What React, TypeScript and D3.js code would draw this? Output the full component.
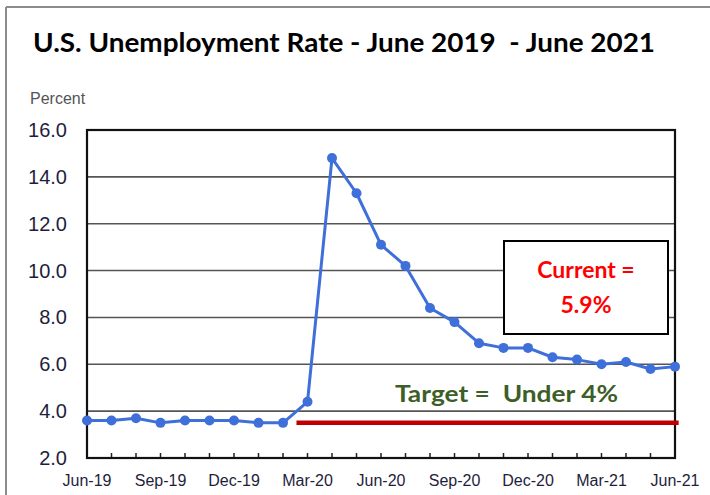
import React from "react";
import * as d3 from "d3";

const months = [
  "Jun-19","Jul-19","Aug-19","Sep-19","Oct-19","Nov-19","Dec-19","Jan-20","Feb-20",
  "Mar-20","Apr-20","May-20","Jun-20","Jul-20","Aug-20","Sep-20","Oct-20","Nov-20",
  "Dec-20","Jan-21","Feb-21","Mar-21","Apr-21","May-21","Jun-21",
];
const rates = [
  3.6, 3.6, 3.7, 3.5, 3.6, 3.6, 3.6, 3.5, 3.5,
  4.4, 14.8, 13.3, 11.1, 10.2, 8.4, 7.8, 6.9, 6.7,
  6.7, 6.3, 6.2, 6.0, 6.1, 5.8, 5.9,
];
const yTicks = [2, 4, 6, 8, 10, 12, 14, 16];
const xTickLabels = ["Jun-19","Sep-19","Dec-19","Mar-20","Jun-20","Sep-20","Dec-20","Mar-21","Jun-21"];
const targetValue = 3.5;
const targetStart = 8.55; // month index
const targetEnd = 24.15;
const titleText = "U.S. Unemployment Rate - June 2019  - June 2021";
const currentLines = ["Current =", "5.9%"];
const targetText = "Target =  Under 4%";

const W = 710, H = 495;
const left = 87, right = 675, top = 130, bottom = 458;

export default function App() {
  const x = d3.scaleLinear().domain([0, months.length - 1]).range([left, right]);
  const y = d3.scaleLinear().domain([2, 16]).range([bottom, top]);
  const line = d3.line<number>().x((_, i) => x(i)).y((d) => y(d));
  const tickFont = "'Liberation Sans', Arial, sans-serif";
  const calFont = "Lato, 'Open Sans', sans-serif";

  return (
    <svg width={W} height={H} style={{ position: "absolute", left: 0, top: 0, background: "#fff" }}>
      {/* outer frame */}
      <line x1={6} y1={7} x2={W} y2={7} stroke="#8c8c8c" strokeWidth={2} />
      <line x1={6} y1={7} x2={6} y2={H} stroke="#8c8c8c" strokeWidth={2} />

      <text x={33} y={52} fontFamily={calFont} fontWeight={700} fontSize={27} fill="#000"
        textLength={622} lengthAdjust="spacingAndGlyphs" style={{ whiteSpace: "pre" }}>
        {titleText}
      </text>

      <text x={30} y={104} fontFamily={tickFont} fontSize={16} fill="#555">Percent</text>

      {/* gridlines */}
      {yTicks.map((t) => (
        <line key={t} x1={left} x2={right} y1={y(t)} y2={y(t)} stroke="#555" strokeWidth={1.6} />
      ))}
      {yTicks.map((t) => (
        <text key={"l" + t} x={67} y={y(t) + 7} textAnchor="end" fontFamily={tickFont}
          fontSize={20} fill="#1e1e3c">{t.toFixed(1)}</text>
      ))}

      {/* month ticks */}
      {months.map((m, i) => (
        <line key={m} x1={x(i)} x2={x(i)} y1={bottom} y2={bottom - 5} stroke="#222" strokeWidth={1.5} />
      ))}
      {xTickLabels.map((lab) => (
        <text key={lab} x={x(months.indexOf(lab))} y={486} textAnchor="middle" fontFamily={tickFont}
          fontSize={16} fill="#1e1e3c">{lab}</text>
      ))}

      {/* frame */}
      <rect x={left} y={top} width={right - left} height={bottom - top} fill="none" stroke="#111" strokeWidth={2.2} />

      {/* target line */}
      <line x1={x(targetStart)} x2={x(targetEnd)} y1={y(targetValue)} y2={y(targetValue)} stroke="#c00000" strokeWidth={4.5} />

      {/* series */}
      <path d={line(rates) || ""} fill="none" stroke="#3f6fd8" strokeWidth={3} strokeLinejoin="round" />
      {rates.map((r, i) => (
        <circle key={i} cx={x(i)} cy={y(r)} r={5} fill="#3f6fd8" />
      ))}

      {/* current box */}
      <rect x={504} y={241} width={164} height={93} fill="#fff" stroke="#000" strokeWidth={2} />
      {currentLines.map((t, i) => (
        <text key={t} x={586} y={278 + i * 35} textAnchor="middle" fontFamily={calFont} fontWeight={700}
          fontSize={23} fill="#ff0000">{t}</text>
      ))}

      <text x={395} y={402} fontFamily={calFont} fontWeight={700} fontSize={22} fill="#3d5e27"
        textLength={223} lengthAdjust="spacingAndGlyphs" style={{ whiteSpace: "pre" }}>
        {targetText}
      </text>
    </svg>
  );
}
